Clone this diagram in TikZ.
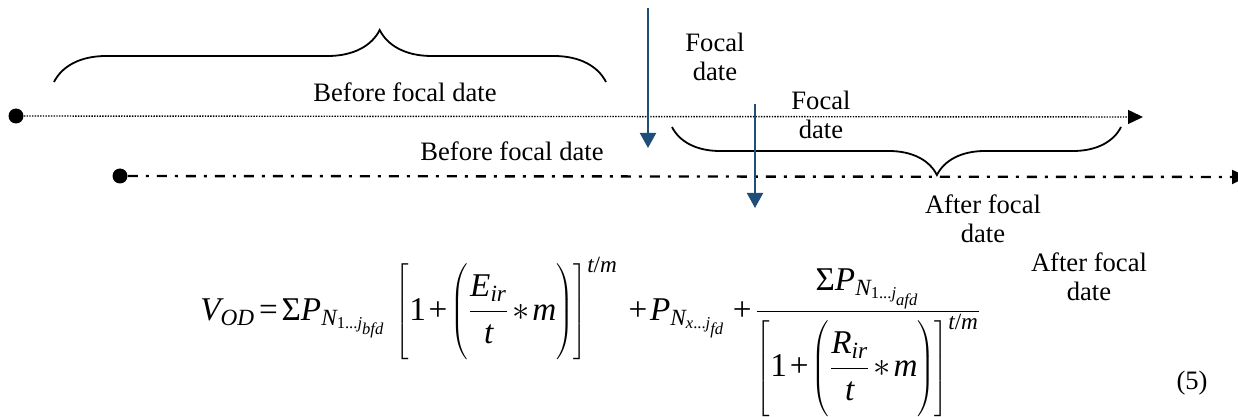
\documentclass[tikz,border=0pt]{standalone}
\usepackage[no-math]{fontspec}
\setmainfont{Liberation Serif}
% Times-like math letters
\DeclareSymbolFont{operators}{TU}{\rmdefault}{m}{n}
\DeclareSymbolFont{letters}{TU}{\rmdefault}{m}{it}
\Umathchardef\Sigma="0 "0 "3A3
\mathchardef\ldotp="602E
\mathcode`/="002F
\newcommand\eqstrut{\rule[-19.6pt]{0pt}{47.5pt}}
\usetikzlibrary{arrows.meta, decorations.pathreplacing}
\definecolor{focalblue}{RGB}{31,78,121}

\begin{document}
\begin{tikzpicture}[x=0.5pt, y=-0.5pt, >={Triangle[length=7.5pt, width=7pt]},
  lbl/.style={font=\fontsize{13.3}{14.6}\selectfont, inner sep=0pt, align=center},
  startdot/.style={circle, fill=black, inner sep=0pt, minimum size=7.5pt},
  focalarrow/.style={draw=focalblue, line width=1pt, -{Triangle[length=7.5pt, width=8pt]}},
  curly/.style={line width=0.9pt, decorate, decoration={brace, amplitude=#1, aspect=0.59}}]
  \useasboundingbox (0,0) rectangle (1238,417);

  % Timeline 1 (dotted)
  \node[startdot] (s1) at (16,116) {};
  \coordinate (e1) at (1143,117);
  \draw[line width=0.7pt, dash pattern=on 0.7pt off 0.65pt, ->] (s1) -- (e1);

  % Timeline 2 (dash-dot)
  \node[startdot] (s2) at (120,176) {};
  \coordinate (e2) at (1247,177);
  \draw[line width=1.2pt, dash pattern=on 5pt off 4pt on 1.5pt off 4pt, ->] (s2) -- (e2);

  % Braces
  \coordinate (b1l) at (54,82);
  \coordinate (b1r) at (606,82);
  \draw[curly=26pt] (b1l) -- (b1r);
  \coordinate (b2l) at (672,127);
  \coordinate (b2r) at (1121,127);
  \draw[curly=24pt, decoration={mirror}] (b2l) -- (b2r);

  % Focal date arrows
  \coordinate (f1top) at (648,8);
  \coordinate (f1tip) at (648,148);
  \draw[focalarrow] (f1top) -- (f1tip);
  \coordinate (f2top) at (755,104);
  \coordinate (f2tip) at (755,208);
  \draw[focalarrow] (f2top) -- (f2tip);

  % Labels
  \node[lbl, anchor=base] (bf1) at (405,102) {Before focal date};
  \node[lbl, anchor=base] (bf2) at (512,161) {Before focal date};
  \node[lbl] (fd1) at (715,57) {Focal\\date};
  \node[lbl] (fd2) at (821,115) {Focal\\date};
  \node[lbl] (af1) at (983,219) {After focal\\date};
  \node[lbl] (af2) at (1089,277) {After focal\\date};

  % Equation
  \node[anchor=base west, inner sep=0pt, font=\fontsize{16.6}{20}\selectfont] (eq) at (200,320)
    {$\medmuskip=1.5mu\thickmuskip=2mu\delimiterfactor=1000\delimitershortfall=0pt\displaystyle
     V_{OD}=\Sigma P_{N_{1\ldots j_{bfd}}}\;\left[1+\left(\eqstrut\frac{E_{ir}}{t}*m\right)\right]^{t/m}\;\;+P_{N_{x\ldots j_{fd}}}\;+\frac{\Sigma P_{N_{1\ldots j_{afd}}}}{\left[1+\left(\eqstrut\displaystyle\frac{R_{ir}}{t}*m\right)\right]^{t/m}}$};
  \node[lbl] (eqno) at (1192,383) {(5)};
\end{tikzpicture}
\end{document}
